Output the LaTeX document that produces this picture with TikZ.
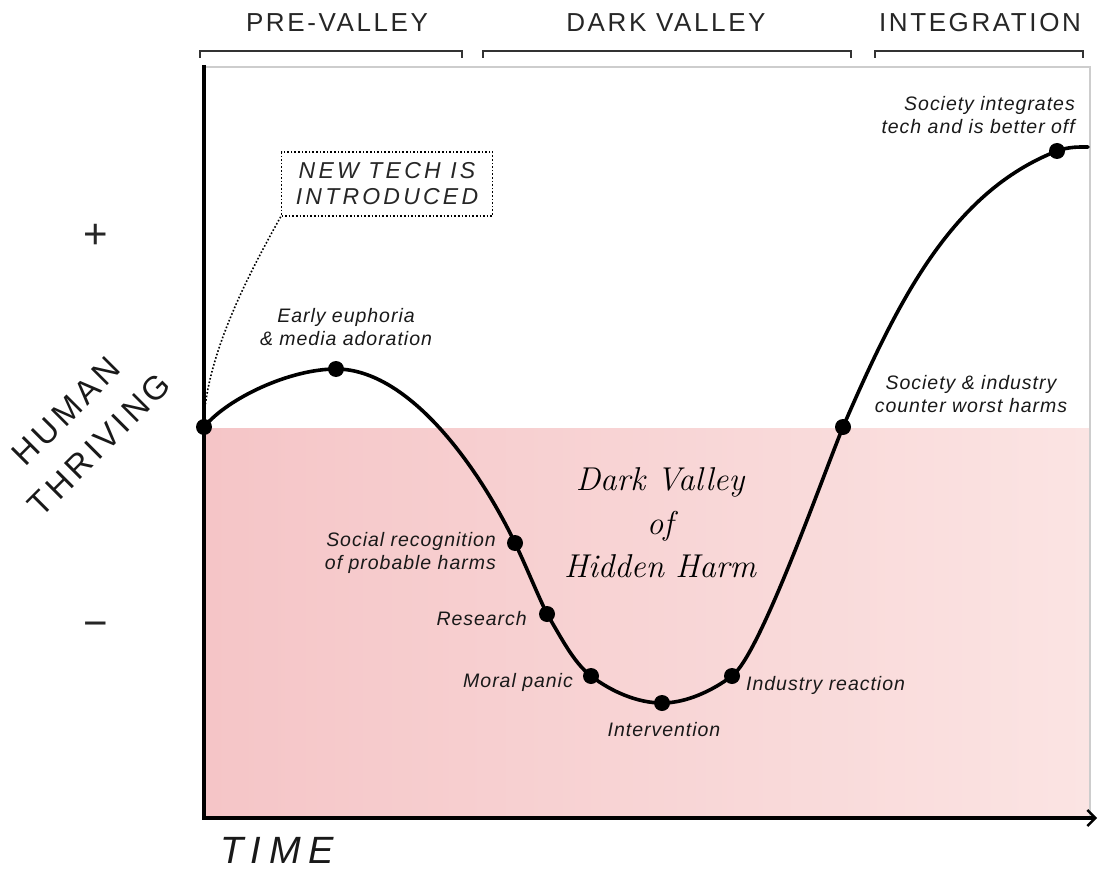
\documentclass[tikz,border=0pt]{standalone}
\usepackage{fontspec}
\usetikzlibrary{arrows.meta}
\newfontfamily\hdrf[LetterSpace=10]{Liberation Sans}
\newfontfamily\labf[LetterSpace=5]{Liberation Sans}
\newfontfamily\axf[LetterSpace=12]{Liberation Sans}
\newfontfamily\timef[LetterSpace=20]{Liberation Sans}
\newfontfamily\ntf[LetterSpace=14]{Liberation Sans}
\definecolor{pinkL}{RGB}{245,197,199}
\definecolor{pinkR}{RGB}{251,228,227}
\definecolor{frameg}{RGB}{205,205,205}
\begin{document}
\begin{tikzpicture}[x=1pt,y=-1pt,
  hdr/.style={font=\hdrf\fontsize{26}{30}\selectfont, text=black!85, inner sep=0pt},
  brk/.style={line width=2.2pt, draw=black!80},
  lbl/.style={font=\labf\itshape\fontsize{19.5}{23.5}\selectfont, inner sep=0pt, text=black!90},
  dotn/.style={circle, fill=black, minimum size=16pt, inner sep=0pt},
  curvel/.style={line width=3.6pt, line cap=round, line join=round},
  axisl/.style={line width=4.5pt},
  bigsym/.style={font=\fontsize{42}{42}\selectfont\hdrf, inner sep=0pt, text=black!85},
]
\useasboundingbox (0,0) rectangle (1104,880);
\fill[white] (0,0) rectangle (1104,880);

% pink valley area
\shade[left color=pinkL, right color=pinkR] (206,428) rectangle (1090,816);
% gray frame
\draw[frameg, line width=2pt] (204,67) -- (1090,67) -- (1090,816);

% axes
\coordinate (ytop) at (204,65);
\coordinate (orig) at (204,818);
\coordinate (xend) at (1097,818);
\draw[axisl] (ytop) -- ([yshift=-2pt]orig);
\draw[line width=3.5pt, -{Straight Barb[length=8pt,width=16pt,line width=2.4pt]}] ([xshift=-2pt]orig) -- (xend);

% headers
\node[hdr] (pv) at (337,23) {PRE-VALLEY};
\node[hdr] (dv) at (666,23) {DARK VALLEY};
\node[hdr] (ig) at (980,23) {INTEGRATION};
\draw[brk] (200,58) -- (200,51) -- (462,51) -- (462,58);
\draw[brk] (483,58) -- (483,51) -- (851,51) -- (851,58);
\draw[brk] (875,58) -- (875,51) -- (1083,51) -- (1083,58);

% axis labels
\node[bigsym] (plus) at (96,236) {+};
\node[bigsym] (minus) at (96,630) {−};
\node[font=\axf\fontsize{33}{47}\selectfont, align=center, rotate=45, inner sep=0pt, text=black!90] (ht) at (83,428) {HUMAN\\THRIVING};
\node[font=\timef\itshape\fontsize{38}{40}\selectfont, inner sep=0pt, anchor=west, text=black!90] (time) at (220,850) {TIME};

% curve points
\coordinate (c0) at (204,427);
\coordinate (c1) at (336,369);
\coordinate (c2) at (515,543);
\coordinate (c3) at (547,614);
\coordinate (c4) at (591,676);
\coordinate (c5) at (662,703);
\coordinate (c6) at (732,676);
\coordinate (c7) at (843,427);
\coordinate (c8) at (1057,151);
\coordinate (c9) at (1088,147);
\draw[curvel] (c0) .. controls (228,398) and (290,369) .. (c1)
  .. controls (410,369) and (480,470) .. (c2)
  .. controls (526,566) and (536,591) .. (c3)
  .. controls (561,637) and (573,662) .. (c4)
  .. controls (612,692) and (638,703) .. (c5)
  .. controls (686,703) and (712,691) .. (c6)
  .. controls (760,655) and (822,478) .. (c7)
  .. controls (898,300) and (952,192) .. (c8)
  .. controls (1069,146.5) and (1080,147) .. (c9);
\foreach \i in {0,...,8} { \node[dotn] (d\i) at (c\i) {}; }

% new tech box
\node[draw, dotted, line width=1.6pt, minimum width=211pt, minimum height=64pt, inner sep=0pt,
      font=\ntf\itshape\fontsize{23}{26}\selectfont, align=center, text=black!85] (nt) at (387,184)
      {NEW TECH IS\\INTRODUCED};
\draw[dotted, line width=1.6pt] (nt.south west) .. controls (252,268) and (208,350) .. (d0.north);

% labels
\node[lbl, align=center, anchor=north] (l1) at (346,308) {Early euphoria\\\& media adoration};
\node[lbl, align=right, anchor=north east] (l2) at (496,532) {Social recognition\\of probable harms};
\node[lbl, anchor=north east] (l3) at (527,611) {Research};
\node[lbl, anchor=north east] (l4) at (573,673) {Moral panic};
\node[lbl, anchor=north] (l5) at (664,722) {Intervention};
\node[lbl, anchor=north west] (l6) at (746,676) {Industry reaction};
\node[lbl, align=center, anchor=north] (l7) at (971,375) {Society \& industry\\counter worst harms};
\node[lbl, align=right, anchor=north east] (l8) at (1075,96) {Society integrates\\tech and is better off};

\node[font=\rmfamily\itshape\fontsize{33}{43.5}\selectfont, align=center, inner sep=0pt, text=black] (dvt) at (660,523)
  {Dark Valley\\of\\Hidden Harm};
\end{tikzpicture}
\end{document}
